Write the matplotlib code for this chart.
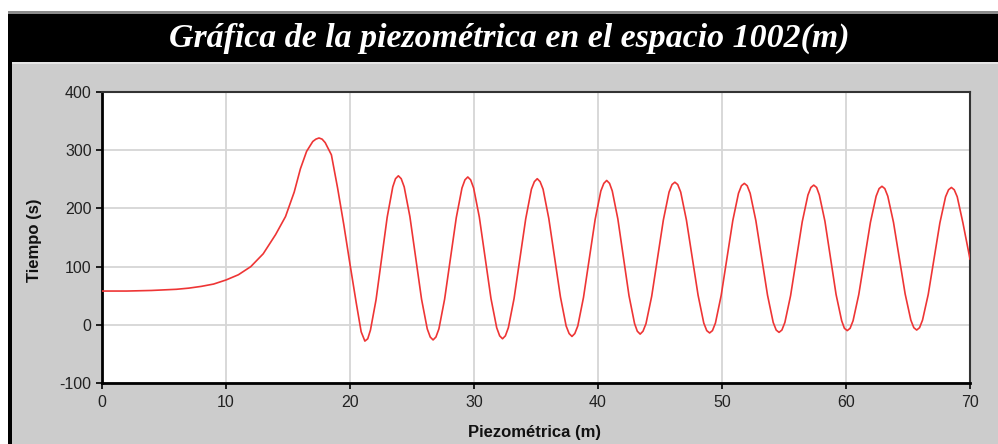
import matplotlib
matplotlib.use("Agg")
import matplotlib.pyplot as plt
from matplotlib.patches import Rectangle

plt.rcParams["axes.unicode_minus"] = False

# Piezometric head readings along the section
piezometrica = [
    0, 2, 4, 5, 6, 7, 8, 9, 10, 11, 12, 13, 14, 14.8, 15.5, 16.0, 16.5, 17.0, 17.25, 17.5,
    17.75, 18.0, 18.5, 19.0, 19.5, 20.0, 20.5, 20.9, 21.2,
    21.43, 21.65, 22.1, 22.55, 23.0, 23.45, 23.67, 23.9,
    24.13, 24.37, 24.83, 25.3, 25.77, 26.23, 26.47, 26.7,
    26.93, 27.17, 27.63, 28.1, 28.57, 29.03, 29.27, 29.5,
    29.73, 29.97, 30.43, 30.9, 31.37, 31.83, 32.07, 32.3,
    32.53, 32.77, 33.23, 33.7, 34.17, 34.63, 34.87, 35.1,
    35.33, 35.57, 36.03, 36.5, 36.97, 37.43, 37.67, 37.9,
    38.13, 38.37, 38.83, 39.3, 39.77, 40.23, 40.47, 40.7,
    40.93, 41.15, 41.6, 42.05, 42.5, 42.95, 43.17, 43.4,
    43.63, 43.87, 44.33, 44.8, 45.27, 45.73, 45.97, 46.2,
    46.43, 46.67, 47.13, 47.6, 48.07, 48.53, 48.77, 49.0,
    49.23, 49.47, 49.93, 50.4, 50.87, 51.33, 51.57, 51.8,
    52.03, 52.27, 52.73, 53.2, 53.67, 54.13, 54.37, 54.6,
    54.83, 55.07, 55.53, 56.0, 56.47, 56.93, 57.17, 57.4,
    57.63, 57.85, 58.3, 58.75, 59.2, 59.65, 59.87, 60.1,
    60.33, 60.57, 61.03, 61.5, 61.97, 62.43, 62.67, 62.9,
    63.13, 63.37, 63.83, 64.3, 64.77, 65.23, 65.47, 65.7,
    65.93, 66.17, 66.63, 67.1, 67.57, 68.03, 68.27, 68.5,
    68.73, 68.97, 69.43, 70.0,
]
tiempo = [
    58, 58, 59, 60, 61, 63, 66, 70, 77, 86, 100, 122, 155, 186, 228, 268, 298, 315, 319, 321,
    319, 313, 292, 235, 172, 104, 38, -12, -28,
    -24, -9, 43, 114, 185, 237, 251, 256,
    251, 237, 186, 115, 44, -7, -21, -26,
    -21, -7, 44, 114, 184, 235, 249, 254,
    249, 235, 185, 115, 45, -5, -19, -24,
    -19, -5, 45, 114, 182, 233, 246, 251,
    246, 233, 183, 116, 48, -2, -15, -20,
    -15, -2, 47, 114, 181, 230, 243, 248,
    243, 230, 182, 116, 50, 2, -11, -16,
    -11, 2, 49, 115, 180, 228, 241, 245,
    241, 228, 180, 116, 51, 3, -10, -14,
    -10, 3, 50, 115, 179, 226, 239, 243,
    239, 226, 179, 115, 51, 4, -9, -13,
    -9, 4, 50, 114, 177, 223, 236, 240,
    236, 223, 178, 115, 52, 7, -6, -10,
    -6, 7, 52, 114, 176, 221, 234, 238,
    234, 221, 176, 115, 53, 8, -5, -9,
    -5, 8, 52, 114, 175, 220, 232, 236,
    232, 220, 175, 113,
]

x_ticks = [0, 10, 20, 30, 40, 50, 60, 70]
y_ticks = [-100, 0, 100, 200, 300, 400]

titulo = "Gráfica de la piezométrica en el espacio 1002(m)"
etiqueta_x = "Piezométrica (m)"
etiqueta_y = "Tiempo (s)"

W, H = 998, 444
fig = plt.figure(figsize=(W / 100, H / 100), dpi=100, facecolor="white")


def box(x0, y0, x1, y1, color):
    """Rectangle in pixel coordinates measured from the top-left corner."""
    fig.patches.append(Rectangle((x0 / W, 1 - y1 / H), (x1 - x0) / W, (y1 - y0) / H,
                                 transform=fig.transFigure, facecolor=color,
                                 edgecolor="none", zorder=-10))


# panel frame: black title band, grey body, dark left border
box(8, 11, W + 2, 14, "#8c8c8c")
box(8, 14, W + 2, 62, "#000000")
box(8, 62, W + 2, 64, "#e6e6e6")
box(8, 64, W + 2, H + 2, "#cccccc")
box(8, 14, 12, H + 2, "#000000")

fig.text(509 / W, 1 - 38 / H, titulo, color="white", ha="center", va="center",
         fontsize=24.4, fontfamily="Liberation Serif", fontweight="bold", fontstyle="italic")

ax = fig.add_axes([102 / W, 1 - 383 / H, (970 - 102) / W, (383 - 92) / H])
ax.set_zorder(5)
ax.set_facecolor("white")
ax.plot(piezometrica, tiempo, color="#ee3535", lw=1.2, solid_joinstyle="round", zorder=3)

ax.set_xlim(0, 70)
ax.set_ylim(-100, 400)
ax.set_xticks(x_ticks)
ax.set_yticks(y_ticks)
ax.grid(True, color="#d6d6d6", lw=1.3, zorder=0)
ax.set_axisbelow(True)

for side in ("left", "bottom"):
    ax.spines[side].set_linewidth(2.0)
    ax.spines[side].set_color("#000000")
for side in ("top", "right"):
    ax.spines[side].set_linewidth(1.5)
    ax.spines[side].set_color("#333333")

ax.tick_params(axis="both", direction="out", length=4.5, width=1.2, color="#000000",
               labelsize=11.5, labelcolor="#222222")
ax.tick_params(axis="x", pad=4)
ax.tick_params(axis="y", pad=3)
for lbl in ax.get_xticklabels() + ax.get_yticklabels():
    lbl.set_fontfamily("Liberation Sans")

fig.text(535 / W, 1 - 432 / H, etiqueta_x, ha="center", va="center", fontsize=12,
         fontweight="bold", fontfamily="Liberation Sans", color="#111111")
fig.text(34 / W, 1 - 240 / H, etiqueta_y, ha="center", va="center", rotation=90,
         fontsize=12, fontweight="bold", fontfamily="Liberation Sans", color="#111111")

fig.savefig("out.png", dpi=100, facecolor=fig.get_facecolor())
